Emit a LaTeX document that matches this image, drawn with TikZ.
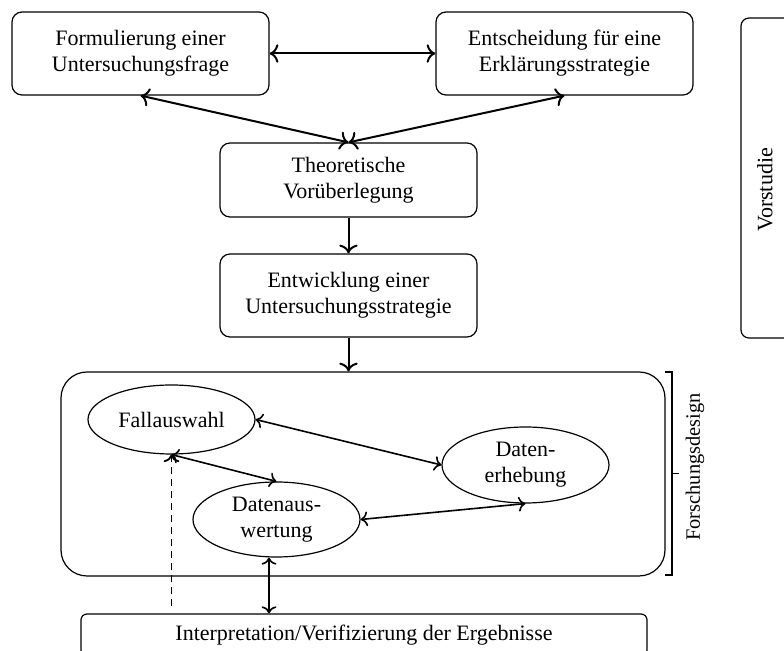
\documentclass[tikz,border=0pt]{standalone}
\usepackage{fontspec}
\setmainfont{Liberation Serif}
\usetikzlibrary{shapes.geometric,arrows.meta,calc}
\begin{document}
\begin{tikzpicture}[x=0.5pt,y=-0.5pt,
  txt/.style={font=\fontsize{11}{13}\selectfont},
  box/.style={draw,line width=0.6pt,rounded corners=5pt,align=center,inner sep=0pt,txt},
  oval/.style={draw,ellipse,line width=0.6pt,align=center,inner sep=0pt,txt,
    minimum width=83.5pt},
  heavy/.style={line width=1pt,{To[scale=1.15]}-{To[scale=1.15]}},
  heavyto/.style={line width=1pt,-{To[scale=1.15]}},
  link/.style={line width=0.8pt,{To[scale=1.05]}-{To[scale=1.05]}},
]
\useasboundingbox (0,0) rectangle (784,651);
\clip (0,0) rectangle (784,651);

% Vorstudie stage
\node[box,minimum width=128.5pt,minimum height=41.5pt] (frage) at (140.5,53.5)
  {Formulierung einer\\Untersuchungsfrage};
\node[box,minimum width=128.5pt,minimum height=41.5pt] (strat) at (564.5,53.5)
  {Entscheidung für eine\\Erklärungsstrategie};
\node[box,minimum width=128.5pt,minimum height=37pt] (theo) at (348.5,180)
  {Theoretische\\Vorüberlegung};
\node[box,minimum width=128.5pt,minimum height=41.5pt] (entw) at (348.5,295.5)
  {Entwicklung einer\\Untersuchungsstrategie};

% side frame labelled Vorstudie (runs past the right edge)
\node[draw,line width=0.6pt,rounded corners=4pt,minimum width=43pt,minimum height=160pt,inner sep=0pt]
  (vor) at (784,178) {};
\node[txt,rotate=90] (vorlabel) at (765,190) {Vorstudie};

% research design frame
\node[draw,line width=0.6pt,rounded corners=13pt,minimum width=302pt,minimum height=102pt,inner sep=0pt]
  (design) at (363,474) {};
\node[oval,minimum height=34.5pt] (fall) at (171.5,419.5) {Fallauswahl};
\node[oval,minimum height=37.5pt] (ausw) at (276.5,519.5) {Datenaus-\\wertung};
\node[oval,minimum height=38pt] (erheb) at (525.5,465) {Daten-\\erhebung};

% bracket with label
\coordinate (bt) at (665,372);
\coordinate (bb) at (665,575);
\draw[line width=0.6pt] (bt) -- ++(7,0) coordinate (btr) -- (btr |- bb) coordinate (bbr) -- (bb);
\draw[line width=0.6pt] ($(btr)!0.5!(bbr)$) coordinate (bm) -- ++(7,0);
\node[rotate=90,font=\fontsize{10.2}{12}\selectfont] (fdlabel) at (695,467) {Forschungsdesign};

% interpretation box (runs past the bottom edge)
\node[draw,line width=0.6pt,rounded corners=3pt,minimum width=283pt,minimum height=21pt,inner sep=0pt,
  txt] (interp) at (364,635)
  {Interpretation/Verifizierung der Ergebnisse};

% connectors in the upper part
\draw[heavy] (frage.east) -- (strat.west);
\draw[heavy] (frage.south) -- (theo.north);
\draw[heavy] (strat.south) -- (theo.north);
\draw[heavyto] (theo.south) -- (entw.north);
\draw[heavyto] (entw.south) -- (entw.south |- design.north);

% connectors inside the design
\draw[link] (fall.east) -- (erheb.west);
\draw[link] (fall.south) -- (ausw.north);
\draw[link] (ausw.east) -- (erheb.south);
\draw[link] ([xshift=-3.75pt]ausw.south) -- ([xshift=-3.75pt]ausw.south |- interp.north);
\draw[line width=0.9pt,dash pattern=on 3.5pt off 2.5pt,-{To[scale=1.05]},shorten <=3.5pt]
  (fall.south |- interp.north) -- (fall.south);
\end{tikzpicture}
\end{document}
